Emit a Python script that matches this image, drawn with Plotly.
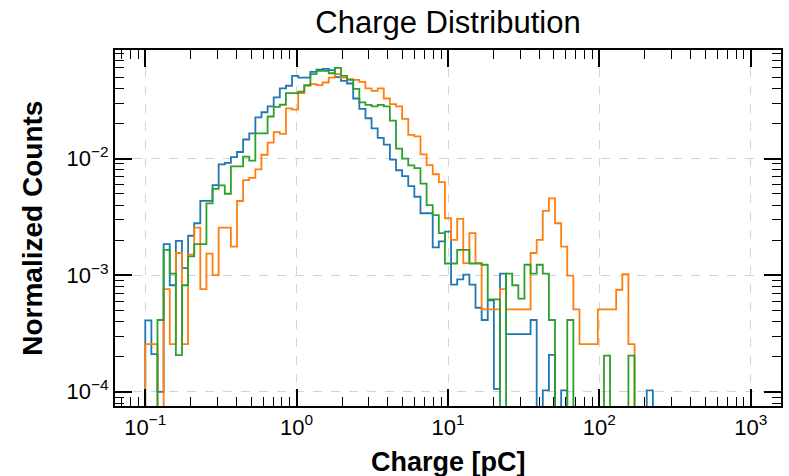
import numpy as np
import plotly.graph_objects as go

# histogram bin edges (log-spaced, 99 bins from 0.1 to 1000 pC)
bin_edges = np.logspace(-1, 3, 100)

# normalized counts per bin
blue_counts = [
    4.1e-4, 2.1e-4, 1.0e-4, 1.85e-3, 8.2e-4, 1.97e-3, 1.15e-3, 2.18e-3, 2.79e-3, 4.35e-3,
    4.35e-3, 5.92e-3, 8.94e-3, 9.18e-3, 1.03e-2, 1.14e-2, 1.46e-2, 1.65e-2, 2.26e-2, 2.5e-2,
    2.81e-2, 3.35e-2, 4.0e-2, 4.22e-2, 5.13e-2, 4.96e-2, 4.96e-2, 5.55e-2, 5.8e-2, 5.9e-2,
    5.75e-2, 5.0e-2, 4.65e-2, 4.41e-2, 3.28e-2, 2.67e-2, 2.22e-2, 1.82e-2, 1.51e-2, 1.32e-2,
    9.8e-3, 7.95e-3, 7.07e-3, 5.8e-3, 4.71e-3, 3.4e-3, 3.4e-3, 1.73e-3, 1.95e-3, 2.37e-3,
    8.3e-4, 9.2e-4, 1.01e-3, 8.3e-4, 5.26e-4, 4.13e-4, 6.1e-4, 1.06e-4, 1.03e-3, 3.12e-4,
    3.12e-4, 3.12e-4, 3.12e-4, 4.13e-4, 0, 1.03e-4, 2.07e-4, 0, 1.03e-4, 0,
    0, 0, 0, 0, 0, 0, 0, 0, 0, 0,
    0, 0, 1.03e-4, 0, 0, 0, 0, 0, 0, 0,
    0, 0, 0, 0, 0, 0, 0, 0, 0,
]
orange_counts = [
    2.56e-4, 2.56e-4, 0, 7.6e-4, 2.56e-4, 1.55e-3, 2.56e-4, 1.5e-3, 2.56e-3, 7.6e-4,
    1.53e-3, 1.0e-3, 2.56e-3, 2.56e-3, 1.76e-3, 4.33e-3, 6.53e-3, 6.84e-3, 8.1e-3, 1.08e-2,
    1.37e-2, 1.69e-2, 1.63e-2, 2.7e-2, 2.63e-2, 3.65e-2, 4.22e-2, 4.36e-2, 4.27e-2, 4.5e-2,
    4.96e-2, 5.3e-2, 4.96e-2, 4.81e-2, 4.74e-2, 4.56e-2, 4.0e-2, 3.82e-2, 4.0e-2, 3.28e-2,
    2.94e-2, 2.81e-2, 2.19e-2, 1.6e-2, 1.55e-2, 1.09e-2, 8.8e-3, 7.35e-3, 6.3e-3, 3.08e-3,
    2.01e-3, 3.04e-3, 1.27e-3, 2.3e-3, 1.27e-3, 5.09e-4, 5.09e-4, 5.09e-4, 7.6e-4, 5.09e-4,
    5.09e-4, 5.09e-4, 5.09e-4, 1.55e-3, 2.01e-3, 3.57e-3, 4.56e-3, 2.79e-3, 1.76e-3, 9.9e-4,
    5.1e-4, 2.56e-4, 2.56e-4, 2.56e-4, 5.09e-4, 5.09e-4, 5.09e-4, 7.5e-4, 1.02e-3, 2.56e-4,
    0, 0, 0, 0, 0, 0, 0, 0, 0, 0,
    0, 0, 0, 0, 0, 0, 0, 0, 0,
]
green_counts = [
    0, 0, 4.13e-4, 1.65e-3, 1.03e-3, 2.06e-4, 8.2e-4, 1.45e-3, 1.85e-3, 1.85e-3,
    4.13e-3, 5.5e-3, 5.9e-3, 5.0e-3, 8.6e-3, 8.6e-3, 1.04e-2, 9.6e-3, 1.65e-2, 1.65e-2,
    2.3e-2, 2.78e-2, 2.9e-2, 3.65e-2, 3.65e-2, 3.75e-2, 4.27e-2, 5.3e-2, 5.66e-2, 5.66e-2,
    5.4e-2, 6.0e-2, 5.13e-2, 4.74e-2, 3.96e-2, 3.04e-2, 2.89e-2, 2.81e-2, 2.89e-2, 2.81e-2,
    2.12e-2, 1.22e-2, 1.0e-2, 8.77e-3, 8.3e-3, 6.1e-3, 4.0e-3, 3.28e-3, 2.3e-3, 1.26e-3,
    1.26e-3, 1.65e-3, 1.65e-3, 1.26e-3, 1.26e-3, 1.23e-3, 6.2e-4, 6.2e-4, 0, 1.03e-3,
    8.2e-4, 6.3e-4, 1.23e-3, 1.03e-3, 1.23e-3, 1.03e-3, 4.13e-4, 0, 0, 4.13e-4,
    0, 0, 0, 0, 0, 2.04e-4, 0, 0, 0, 2.04e-4,
    0, 0, 0, 0, 0, 0, 0, 0, 0, 0,
    0, 0, 0, 0, 0, 0, 0, 0, 0,
]

x_tick_vals = [0.1, 1, 10, 100, 1000]
x_tick_text = ["10<sup>\u22121</sup>", "10<sup>0</sup>", "10<sup>1</sup>", "10<sup>2</sup>", "10<sup>3</sup>"]
y_tick_vals = [1e-4, 1e-3, 1e-2]
y_tick_text = ["10<sup>\u22124</sup>", "10<sup>\u22123</sup>", "10<sup>\u22122</sup>"]

series = [
    ("Series 1", blue_counts, "#1f77b4"),
    ("Series 2", orange_counts, "#ff7f0e"),
    ("Series 3", green_counts, "#2ca02c"),
]

FLOOR = 1e-7  # empty bins drop below the visible range


def step_xy(vals):
    v = [c if c > 0 else FLOOR for c in vals]
    xs = [bin_edges[0]] + list(bin_edges)
    ys = [FLOOR] + v + [FLOOR]
    return xs, ys


fig = go.Figure()
for name, vals, color in series:
    xs, ys = step_xy(vals)
    fig.add_trace(go.Scatter(x=xs, y=ys, mode="lines", name=name,
                             line=dict(color=color, width=1.8, shape="hv"),
                             showlegend=False))

x_minor = [m * 10.0 ** e for e in range(-2, 4) for m in range(2, 10)]
y_minor = [m * 10.0 ** e for e in range(-5, 0) for m in range(2, 10)]

font = "Liberation Sans, Arial, Helvetica, sans-serif"
axis_common = dict(
    showline=True, linecolor="black", linewidth=2.2, mirror="allticks",
    ticks="inside", ticklen=17, tickwidth=1.6, tickcolor="black",
    showgrid=True, gridcolor="#d4d4d4", gridwidth=1, griddash="dash",
    zeroline=False,
    tickfont=dict(family=font, size=22, color="black"),
)

fig.update_layout(
    width=789, height=476,
    margin=dict(l=115, r=6, t=50, b=70),
    paper_bgcolor="white", plot_bgcolor="white",
    font=dict(family=font, color="black"),
    title=dict(text="Charge Distribution", x=0.5, xref="paper", xanchor="center",
               y=1 - 22 / 476, yref="container", yanchor="middle",
               font=dict(family=font, size=31, color="black")),
    xaxis=dict(type="log", range=[-1.2, 3.2], tickmode="array",
               tickvals=x_tick_vals, ticktext=x_tick_text,
               minor=dict(ticks="inside", ticklen=9, tickwidth=1.2, tickcolor="black",
                          tickvals=x_minor, showgrid=False),
               **axis_common),
    yaxis=dict(type="log", range=[-4.122, -1.068], tickmode="array",
               tickvals=y_tick_vals, ticktext=y_tick_text,
               minor=dict(ticks="inside", ticklen=9, tickwidth=1.2, tickcolor="black",
                          tickvals=y_minor, showgrid=False),
               **axis_common),
    annotations=[
        dict(text="<b>Charge [pC]</b>", xref="paper", yref="paper", x=0.5, y=-0.157,
             xanchor="center", yanchor="middle", showarrow=False,
             font=dict(family=font, size=27, color="black")),
        dict(text="<b>Normalized Counts</b>", xref="paper", yref="paper", x=-0.125, y=0.5,
             xanchor="center", yanchor="middle", showarrow=False, textangle=-90,
             font=dict(family=font, size=28, color="black")),
    ],
)

fig.write_html("out.html")
